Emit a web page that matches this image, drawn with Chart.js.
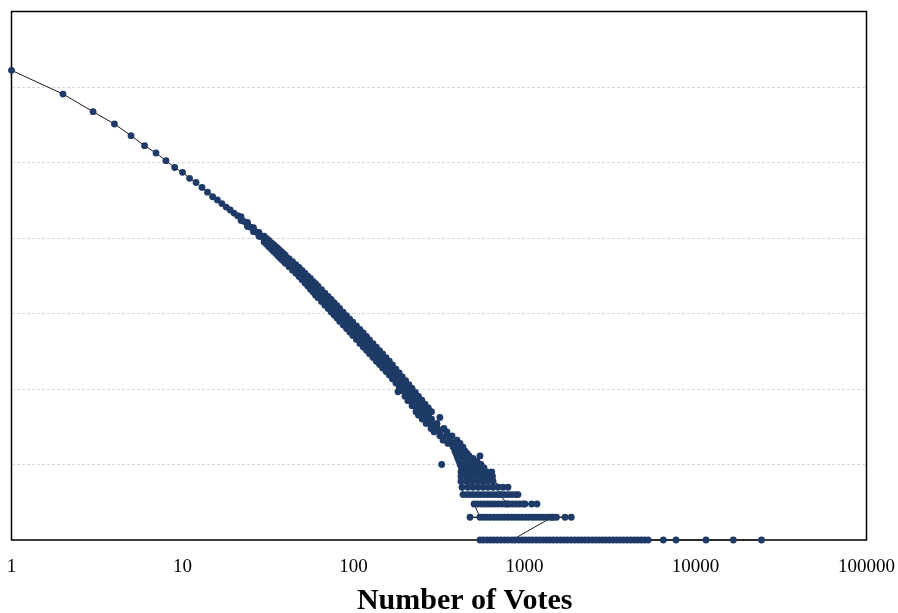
<!DOCTYPE html>
<html>
<head>
<meta charset="utf-8">
<script src="https://cdn.jsdelivr.net/npm/chart.js@4.4.1/dist/chart.umd.min.js"></script>
<style>
  html, body { margin: 0; padding: 0; background: #fff; }
  #wrap { width: 898px; height: 613px; }
</style>
</head>
<body>
<div id="wrap"><canvas id="votesChart" width="898" height="613"></canvas></div>
<script>
// votes per item (x) vs how many items got that many votes (y), log-log

// first part of the curve, single points
const curveVotes = [1, 2, 3, 4, 5, 6, 7, 8, 9, 10, 11, 12, 13, 14, 15, 16, 17, 18, 19, 20,
  21, 22, 23, 24, 25, 26, 27, 28, 29];
const curveCounts = [1663000, 807000, 471000, 323600, 226500, 167100, 133600, 105700, 85900,
  74100, 61800, 54300, 46700, 40400, 35200, 31900, 28600, 25700, 23500, 21400, 19700, 18100,
  16500, 15100, 13900, 12900, 12000, 11200, 10400];
// where the curve starts to thicken
const spreadVotes = [22, 22, 24, 24, 26, 26, 28, 28];
const spreadCounts = [19240, 17030, 16050, 14200, 13710, 12140, 11900, 10540];

// thick part of the band: centre, upper edge and lower edge at each vote value
const bandVotes = [30, 31, 32, 33, 34, 35, 36, 37, 38, 39, 40, 42, 44, 46, 48, 50, 52, 54, 56,
  58, 60, 62, 65, 68, 71, 74, 77, 80, 83, 87, 91, 95, 99, 104, 109, 114, 119, 124, 130, 136,
  142, 148, 155, 162, 169, 177, 185, 193, 202, 211, 220, 230, 240, 251, 262, 274, 286];
const bandMid = [9670, 9045, 8430, 7883, 7394, 6978, 6566, 6175, 5848, 5516, 5224, 4709, 4272,
  3886, 3545, 3226, 2943, 2686, 2467, 2265, 2086, 1932, 1727, 1551, 1398, 1269, 1150, 1050,
  958, 856, 769, 691, 627, 557, 497, 446, 402, 362, 323, 289, 261, 235, 210, 189, 168, 148,
  132, 117, 104, 92, 82, 73, 65, 57, 51, 45, 40];
const bandHigh = [10600, 9913, 9298, 8695, 8200, 7739, 7328, 6891, 6567, 6194, 5903, 5321,
  4870, 4430, 4080, 3713, 3429, 3129, 2909, 2670, 2491, 2307, 2074, 1863, 1679, 1533, 1389,
  1268, 1168, 1043, 937, 842, 771, 685, 615, 552, 498, 448, 400, 358, 323, 291, 260, 234, 208,
  183, 163, 145, 129, 114, 102, 90, 80, 71, 63, 56, 50];
const bandLow = [8823, 8253, 7643, 7147, 6667, 6292, 5884, 5533, 5207, 4912, 4623, 4167, 3747,
  3409, 3080, 2803, 2526, 2306, 2092, 1921, 1747, 1618, 1438, 1291, 1164, 1050, 952, 869, 786,
  702, 631, 567, 510, 453, 401, 360, 325, 292, 261, 233, 211, 190, 170, 153, 136, 120, 107, 95,
  84, 74, 66, 59, 53, 46, 41, 36, 32];

// the spreading cloud: one list of vote values per count level
const cloudCounts = [80, 70, 60, 50, 45, 40, 35, 30, 27, 24, 21, 19, 17, 15, 14, 13,
  12, 11, 10, 9, 8, 7, 6, 5];
const cloudVotes = [
  [200, 212],
  [208, 220],
  [220, 238],
  [232, 245, 258],
  [240, 256, 273],
  [252, 268, 284],
  [266, 286, 308],
  [338, 310, 284],
  [296, 320, 352],
  [377, 348, 320],
  [334, 367, 403],
  [420, 387, 357],
  [382, 408, 437],
  [449, 420, 392],
  [398, 425, 461],
  [474, 440, 403],
  [408, 449, 500],
  [528, 490, 452, 414],
  [420, 455, 490, 525, 557],
  [580, 540, 500, 463, 428],
  [425, 460, 497, 535, 575, 604],
  [650, 610, 570, 530, 492, 458, 425],
  [425, 458, 492, 530, 570, 610, 655],
  [749, 700, 655, 612, 572, 535, 500, 467, 431]
];
// stray points away from the cloud
const strayVotes = [182, 320, 328, 549, 643, 801];
const strayCounts = [92, 42, 10, 13, 8, 5];

// bottom rows (4, 3, 2 and 1 items), in the order the line runs through them
const row4Votes = [437, 458, 480, 503, 528, 553, 580, 608, 637, 668, 700, 734, 770, 807, 846,
  887, 916, 719];
const row3Votes = [790, 812, 852, 893, 936, 981, 1007, 1102, 1183, 775, 739, 705, 673, 642,
  612, 584, 557, 531, 507];
const row2Votes = [549, 480, 575, 603, 632, 663, 695, 729, 764, 801, 840, 880, 923, 967, 1014,
  1063, 1114, 1168, 1224, 1283, 1345, 1410, 1478, 1538, 1726, 1877, 1449];
const row1Votes = [845, 549, 575, 603, 632, 663, 695, 729, 764, 801, 880, 923, 967, 1014, 1063,
  1114, 1168, 1224, 1283, 1345, 1410, 1478, 1550, 1625, 1703, 1785, 1872, 1962, 2057, 2156,
  2260, 2370, 2484, 2604, 2730, 2862, 3000, 3145, 3297, 3456, 3623, 3798, 3981, 4174, 4375,
  4587, 4808, 5040, 5284, 6481, 7691, 11520, 16640, 24320];

const xTicks = [1, 10, 100, 1000, 10000, 100000];
const yTicks = [1, 10, 100, 1000, 10000, 100000, 1000000, 10000000];
const xTitle = 'Number of Votes';

const points = [];
curveVotes.forEach((v, i) => points.push({ x: v, y: curveCounts[i] }));
spreadVotes.forEach((v, i) => points.push({ x: v, y: spreadCounts[i] }));
bandVotes.forEach((v, i) => {
  points.push({ x: v, y: bandHigh[i] });
  points.push({ x: v, y: bandMid[i] });
  points.push({ x: v, y: bandLow[i] });
});
cloudVotes.forEach((row, i) => row.forEach(v => points.push({ x: v, y: cloudCounts[i] })));
row4Votes.forEach(v => points.push({ x: v, y: 4 }));
row3Votes.forEach(v => points.push({ x: v, y: 3 }));
row2Votes.forEach(v => points.push({ x: v, y: 2 }));
row1Votes.forEach(v => points.push({ x: v, y: 1 }));
// the line follows the count from high to low
points.sort((a, b) => b.y - a.y);

const strays = strayVotes.map((v, i) => ({ x: v, y: strayCounts[i] }));

const navy = '#1e3a66';
const serif = '"Liberation Serif", "Times New Roman", serif';

const frame = {
  id: 'frame',
  beforeDatasetsDraw(chart) {
    const { ctx, chartArea: a } = chart;
    ctx.save();
    ctx.strokeStyle = '#000';
    ctx.lineWidth = 1.5;
    ctx.strokeRect(a.left, a.top, a.right - a.left, a.bottom - a.top);
    ctx.restore();
  }
};

const axisTitle = {
  id: 'axisTitle',
  afterDraw(chart) {
    const { ctx, chartArea: a } = chart;
    ctx.save();
    ctx.fillStyle = '#000';
    ctx.font = 'bold 30px ' + serif;
    ctx.textAlign = 'center';
    ctx.textBaseline = 'middle';
    ctx.fillText(xTitle, a.left + (a.right - a.left) * 0.53, 601);
    ctx.restore();
  }
};

new Chart(document.getElementById('votesChart'), {
  type: 'scatter',
  data: {
    datasets: [{
      data: points,
      showLine: true,
      borderColor: '#1a1a1a',
      borderWidth: 1,
      pointRadius: 3.4,
      pointBorderWidth: 0,
      pointBackgroundColor: navy,
      pointHoverRadius: 3.4,
      clip: false
    }, {
      data: strays,
      showLine: false,
      pointRadius: 3.4,
      pointBorderWidth: 0,
      pointBackgroundColor: navy,
      clip: false
    }]
  },
  options: {
    responsive: false,
    animation: false,
    events: [],
    layout: { padding: { left: 11.5, top: 11.5, right: 31.5, bottom: 0 } },
    plugins: { legend: { display: false }, tooltip: { enabled: false } },
    scales: {
      x: {
        type: 'logarithmic',
        min: 1,
        max: 100000,
        afterBuildTicks: s => { s.ticks = xTicks.map(v => ({ value: v })); },
        afterFit: s => { s.height = 73; s.paddingLeft = 0; s.paddingRight = 0; },
        grid: { display: false, drawTicks: false },
        border: { display: false },
        ticks: {
          autoSkip: false,
          maxRotation: 0,
          padding: 16,
          color: '#000',
          font: { family: serif, size: 19 },
          callback: v => String(v)
        }
      },
      y: {
        type: 'logarithmic',
        min: 1,
        max: 10000000,
        afterBuildTicks: s => { s.ticks = yTicks.map(v => ({ value: v })); },
        afterFit: s => { s.width = 0; s.paddingTop = 0; s.paddingBottom = 0; },
        grid: { color: '#d9d9d9', lineWidth: 1, drawTicks: false },
        border: { display: false, dash: [3, 2] },
        ticks: { display: false }
      }
    }
  },
  plugins: [frame, axisTitle]
});
</script>
</body>
</html>
